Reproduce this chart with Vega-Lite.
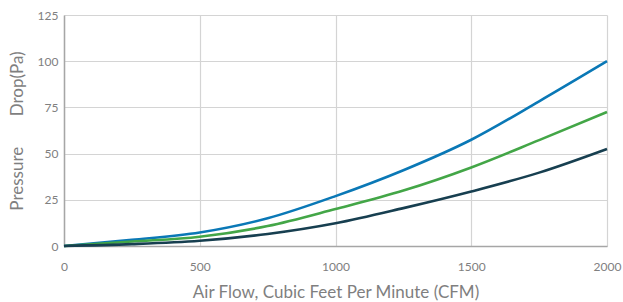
{
  "$schema": "https://vega.github.io/schema/vega-lite/v6.json",
  "width": 543,
  "height": 231,
  "autosize": "none",
  "padding": {"left": 64, "top": 15, "right": 16, "bottom": 56},
  "background": "white",
  "config": {
    "font": "Lato",
    "view": {"stroke": null}
  },
  "data": {
    "values": [
      {"cfm": 0, "pa": 0, "s": "A"},
      {"cfm": 250, "pa": 3.3, "s": "A"},
      {"cfm": 500, "pa": 7.3, "s": "A"},
      {"cfm": 750, "pa": 15, "s": "A"},
      {"cfm": 1000, "pa": 27, "s": "A"},
      {"cfm": 1250, "pa": 41, "s": "A"},
      {"cfm": 1500, "pa": 57.5, "s": "A"},
      {"cfm": 1750, "pa": 78.3, "s": "A"},
      {"cfm": 2000, "pa": 100, "s": "A"},
      {"cfm": 0, "pa": 0, "s": "B"},
      {"cfm": 250, "pa": 2.4, "s": "B"},
      {"cfm": 500, "pa": 5, "s": "B"},
      {"cfm": 750, "pa": 10.8, "s": "B"},
      {"cfm": 1000, "pa": 20, "s": "B"},
      {"cfm": 1250, "pa": 30, "s": "B"},
      {"cfm": 1500, "pa": 42.5, "s": "B"},
      {"cfm": 1750, "pa": 57.3, "s": "B"},
      {"cfm": 2000, "pa": 72.5, "s": "B"},
      {"cfm": 0, "pa": 0, "s": "C"},
      {"cfm": 250, "pa": 1, "s": "C"},
      {"cfm": 500, "pa": 2.8, "s": "C"},
      {"cfm": 750, "pa": 6.5, "s": "C"},
      {"cfm": 1000, "pa": 12.3, "s": "C"},
      {"cfm": 1250, "pa": 20.5, "s": "C"},
      {"cfm": 1500, "pa": 29.5, "s": "C"},
      {"cfm": 1750, "pa": 39.7, "s": "C"},
      {"cfm": 2000, "pa": 52.5, "s": "C"}
    ]
  },
  "mark": {"type": "line", "interpolate": "monotone", "strokeWidth": 2.6},
  "encoding": {
    "x": {
      "field": "cfm",
      "type": "quantitative",
      "scale": {"domain": [0, 2000], "nice": false},
      "axis": {
        "values": [0, 500, 1000, 1500, 2000],
        "format": "d",
        "labelFlush": false,
        "title": "Air Flow, Cubic Feet Per Minute (CFM)",
        "titleFontSize": 17,
        "titleFontWeight": "normal",
        "titleColor": "#7f7f7f",
        "titlePadding": 12,
        "labelFontSize": 12,
        "labelColor": "#808080",
        "labelPadding": 15,
        "ticks": false,
        "domainColor": "#a6a6a6",
        "domainWidth": 1.5,
        "gridColor": "#d4d4d4",
        "gridWidth": 1.2
      }
    },
    "y": {
      "field": "pa",
      "type": "quantitative",
      "scale": {"domain": [0, 125], "nice": false},
      "axis": {
        "values": [0, 25, 50, 75, 100, 125],
        "format": "d",
        "labelFlush": false,
        "title": "Pressure\u00a0\u00a0\u00a0\u00a0\u00a0\u00a0\u00a0Drop(Pa)",
        "titleFontSize": 17,
        "titleFontWeight": "normal",
        "titleColor": "#7f7f7f",
        "titlePadding": 11,
        "labelFontSize": 12,
        "labelColor": "#808080",
        "labelPadding": 6,
        "ticks": false,
        "domainColor": "#a6a6a6",
        "domainWidth": 1.5,
        "gridColor": "#d4d4d4",
        "gridWidth": 1.2
      }
    },
    "color": {
      "field": "s",
      "type": "nominal",
      "scale": {"domain": ["A", "B", "C"], "range": ["#0a78b6", "#43a647", "#173f50"]},
      "legend": null
    }
  }
}
